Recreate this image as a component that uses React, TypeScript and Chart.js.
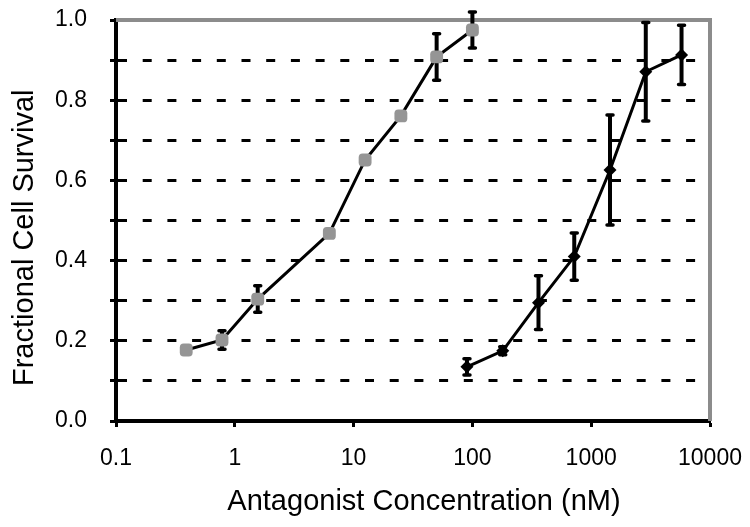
import React, { useEffect, useRef } from "react";
import { Chart, registerables } from "chart.js";

Chart.register(...registerables);

// ---- data ----
const seriesAConc = [0.39, 0.78, 1.56, 6.25, 12.5, 25, 50, 100];
const seriesASurvival = [0.177, 0.202, 0.304, 0.468, 0.651, 0.761, 0.908, 0.975];
const seriesAError = [0, 0.023, 0.033, 0, 0, 0, 0.058, 0.045];

const seriesBConc = [90, 180, 360, 720, 1440, 2880, 5760];
const seriesBSurvival = [0.135, 0.175, 0.295, 0.41, 0.626, 0.871, 0.913];
const seriesBError = [0.02, 0.01, 0.067, 0.059, 0.137, 0.123, 0.074];

const xTickValues = [0.1, 1, 10, 100, 1000, 10000];
const xTickLabels = ["0.1", "1", "10", "100", "1000", "10000"];
const yTickLabels = ["0.0", "0.2", "0.4", "0.6", "0.8", "1.0"];
const xAxisTitle = "Antagonist Concentration (nM)";
const yAxisTitle = "Fractional Cell Survival";

const FONT = '"Liberation Sans", Arial, Helvetica, sans-serif';

const zeroPad = (s: any) => {
  s.paddingTop = 0;
  s.paddingBottom = 0;
  s.paddingLeft = 0;
  s.paddingRight = 0;
};

const frameAndErrorPlugin = {
  id: "frameAndErrors",
  beforeDatasetsDraw(chart: any) {
    const { ctx, chartArea, scales } = chart;
    // gray top / right frame
    ctx.save();
    ctx.strokeStyle = "#8c8c8c";
    ctx.lineWidth = 4;
    ctx.beginPath();
    ctx.moveTo(chartArea.left, chartArea.top);
    ctx.lineTo(chartArea.right, chartArea.top);
    ctx.lineTo(chartArea.right, chartArea.bottom);
    ctx.stroke();
    ctx.restore();

    // error bars
    ctx.save();
    ctx.strokeStyle = "#000";
    chart.data.datasets.forEach((ds: any) => {
      const errs: number[] = ds.errors || [];
      ds.data.forEach((p: any, i: number) => {
        const e = errs[i];
        if (!e) return;
        const px = scales.x.getPixelForValue(p.x);
        const yt = scales.y.getPixelForValue(p.y + e);
        const yb = scales.y.getPixelForValue(p.y - e);
        ctx.lineWidth = 4;
        ctx.lineCap = "butt";
        ctx.beginPath();
        ctx.moveTo(px, yt);
        ctx.lineTo(px, yb);
        ctx.stroke();
        ctx.lineWidth = 3.5;
        ctx.lineCap = "round";
        ctx.beginPath();
        ctx.moveTo(px - 3, yt);
        ctx.lineTo(px + 3, yt);
        ctx.moveTo(px - 3, yb);
        ctx.lineTo(px + 3, yb);
        ctx.stroke();
      });
    });
    ctx.restore();
  },
  afterDraw(chart: any) {
    const { ctx, chartArea } = chart;
    ctx.save();
    ctx.fillStyle = "#000";
    ctx.font = `29px ${FONT}`;
    ctx.textBaseline = "alphabetic";
    ctx.textAlign = "center";
    ctx.fillText(xAxisTitle, (chartArea.left + chartArea.right) / 2 + 11, 510);
    ctx.translate(33, 386);
    ctx.rotate(-Math.PI / 2);
    ctx.textAlign = "left";
    ctx.fillText(yAxisTitle, 0, 0);
    ctx.restore();
  },
};

export default function App() {
  const ref = useRef<HTMLCanvasElement | null>(null);

  useEffect(() => {
    if (!ref.current) return;
    Chart.defaults.font.family = FONT;
    const chart = new Chart(ref.current, {
      type: "scatter",
      data: {
        datasets: [
          {
            label: "A",
            data: seriesAConc.map((x, i) => ({ x, y: seriesASurvival[i] })),
            errors: seriesAError,
            showLine: true,
            borderColor: "#000",
            borderWidth: 3,
            pointStyle: "rectRounded",
            pointRadius: 7.5,
            pointBackgroundColor: "#959595",
            pointBorderColor: "#959595",
            pointBorderWidth: 0,
            clip: false,
          } as any,
          {
            label: "B",
            data: seriesBConc.map((x, i) => ({ x, y: seriesBSurvival[i] })),
            errors: seriesBError,
            showLine: true,
            borderColor: "#000",
            borderWidth: 3,
            pointStyle: "rectRot",
            pointRadius: 6.5,
            pointBackgroundColor: "#000",
            pointBorderColor: "#000",
            pointBorderWidth: 0,
            clip: false,
          } as any,
        ],
      },
      options: {
        responsive: false,
        animation: false,
        devicePixelRatio: 1,
        layout: { padding: { top: 20, right: 40, left: 0, bottom: 0 } },
        plugins: {
          legend: { display: false },
          tooltip: { enabled: false },
        },
        scales: {
          x: {
            type: "logarithmic",
            min: 0.1,
            max: 10000,
            afterFit: (s: any) => {
              s.height = 106;
              zeroPad(s);
            },
            afterBuildTicks: (s: any) => {
              s.ticks = xTickValues.map((v) => ({ value: v }));
            },
            grid: {
              drawOnChartArea: false,
              tickLength: 6,
              tickWidth: 3,
              tickColor: "#000",
            },
            border: { color: "#000", width: 4 },
            ticks: {
              callback: (_v: any, i: number) => xTickLabels[i],
              font: { size: 23 },
              color: "#000",
              padding: 18,
              autoSkip: false,
              maxRotation: 0,
            },
          },
          y: {
            min: 0,
            max: 1,
            afterFit: (s: any) => {
              s.width = 116;
              zeroPad(s);
            },
            grid: {
              color: (c: any) =>
                c.tick && (c.tick.value < 0.001 || c.tick.value > 0.999)
                  ? "rgba(0,0,0,0)"
                  : "#000",
              lineWidth: 3,
              tickLength: 6,
              tickWidth: 3,
              tickColor: "#000",
            },
            border: { color: "#000", width: 4, dash: [9, 15.7] },
            ticks: {
              stepSize: 0.1,
              callback: (_v: any, i: number) => (i % 2 === 0 ? yTickLabels[i / 2] : ""),
              font: { size: 23 },
              color: "#000",
              padding: 23,
              autoSkip: false,
            },
          },
        },
      } as any,
      plugins: [frameAndErrorPlugin],
    });
    return () => chart.destroy();
  }, []);

  return (
    <canvas
      ref={ref}
      width={750}
      height={527}
      style={{ position: "absolute", left: 0, top: 0 }}
    />
  );
}
